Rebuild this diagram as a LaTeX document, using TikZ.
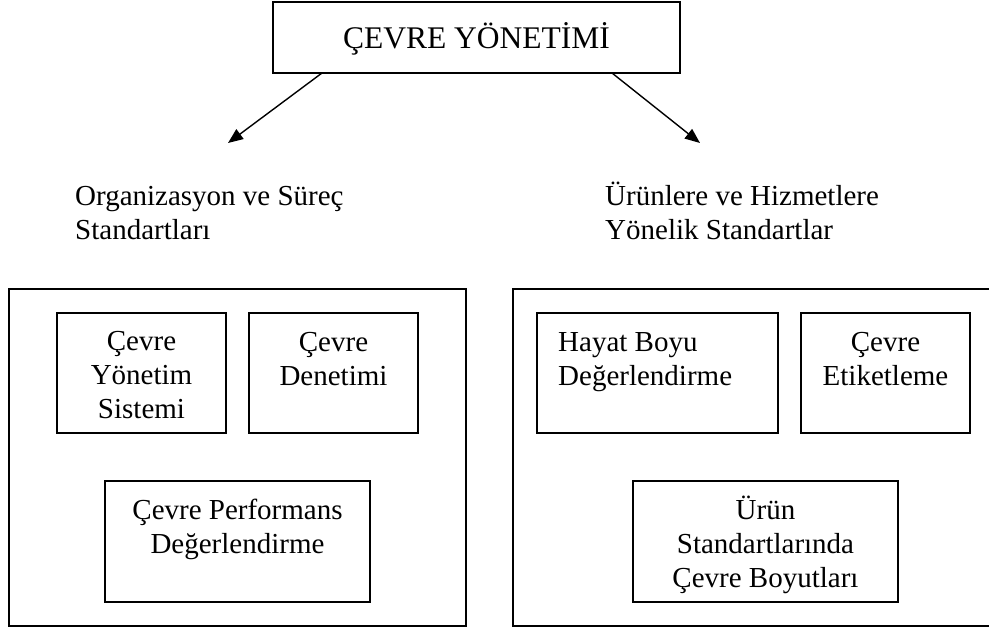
\documentclass[tikz,border=0pt]{standalone}
\usepackage{fontspec}
\setmainfont{Liberation Serif}
\usepackage{tikz}
\usetikzlibrary{calc,arrows.meta,positioning}
\tikzset{
  frame/.style={draw,line width=1.8pt,inner sep=0pt,outer sep=0pt},
  txt/.style={font=\fontsize{29}{34}\selectfont,inner sep=0pt,align=center},
  lbl/.style={font=\fontsize{29}{34}\selectfont,inner sep=0pt,align=left},
  ar/.style={-{Triangle[length=15pt,width=12pt]},line width=1.4pt}
}

\begin{document}
\begin{tikzpicture}[x=1pt,y=-1pt]
\useasboundingbox (0,0) rectangle (989,630);
\node[frame,minimum width=407pt,minimum height=71pt] (cy) at (476.5,37.5) {};
\node[inner sep=0pt,font=\fontsize{31.5}{36}\selectfont,anchor=base] (cyt) at (476.5,48) {ÇEVRE YÖNETİMİ};
\coordinate (lt) at (228,143);
\coordinate (rt) at (700,143);
\draw[ar] ([xshift=49pt]cy.south west) -- (lt);
\draw[ar] ([xshift=-68pt]cy.south east) -- (rt);
\node[lbl,anchor=base west] (org) at (75,239) {Organizasyon ve Süreç\\Standartları};
\node[lbl,anchor=base west] (urh) at (605,239) {Ürünlere ve Hizmetlere\\Yönelik Standartlar};
\node[frame,minimum width=457pt,minimum height=337pt] (sol) at (237.5,457.5) {};
\node[frame,minimum width=500pt,minimum height=337pt] (sag) at (763,457.5) {};
\node[frame,minimum width=169pt,minimum height=120pt] (ys) at (141.5,373) {};
\node[frame,minimum width=169pt,minimum height=120pt] (cd) at (333.5,373) {};
\node[frame,minimum width=265pt,minimum height=121pt] (cp) at (237.5,541.5) {};
\node[frame,minimum width=241pt,minimum height=120pt] (hb) at (657.5,373) {};
\node[frame,minimum width=169pt,minimum height=120pt] (ce) at (885.5,373) {};
\node[frame,minimum width=265pt,minimum height=121pt] (us) at (765.5,541.5) {};
\node[txt,anchor=base] (yst) at ([yshift=-105pt]ys.north) {Çevre\\Yönetim\\Sistemi};
\node[txt,anchor=base] (cdt) at ([yshift=-72pt]cd.north) {Çevre\\Denetimi};
\node[txt,anchor=base] (cpt) at ([yshift=-72pt]cp.north) {Çevre Performans\\Değerlendirme};
\node[lbl,anchor=base west] (hbt) at ([xshift=21pt,yshift=-72pt]hb.north west) {Hayat Boyu\\Değerlendirme};
\node[txt,anchor=base] (cet) at ([yshift=-72pt]ce.north) {Çevre\\Etiketleme};
\node[txt,anchor=base] (ust) at ([yshift=-106pt]us.north) {Ürün\\Standartlarında\\Çevre Boyutları};
\end{tikzpicture}
\end{document}
